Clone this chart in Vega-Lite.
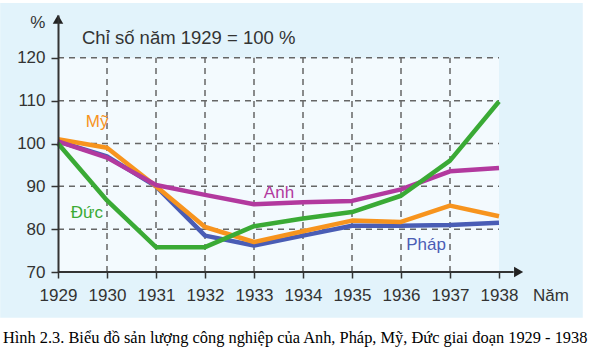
{
  "$schema": "https://vega.github.io/schema/vega-lite/v6.json",
  "autosize": "none",
  "width": 441,
  "height": 257,
  "padding": {"left": 58, "top": 15, "right": 94, "bottom": 85},
  "background": "white",
  "config": {"view": {"stroke": null}},
  "data": {"values": [{}]},
  "resolve": {"axis": {"x": "independent", "y": "independent"}},
  "datasets": {
    "series": [
      {"year": 1929, "country": "Pháp", "value": 100.5},
      {"year": 1930, "country": "Pháp", "value": 97},
      {"year": 1931, "country": "Pháp", "value": 90},
      {"year": 1932, "country": "Pháp", "value": 78.5},
      {"year": 1933, "country": "Pháp", "value": 76.2},
      {"year": 1934, "country": "Pháp", "value": 78.5},
      {"year": 1935, "country": "Pháp", "value": 80.8},
      {"year": 1936, "country": "Pháp", "value": 80.8},
      {"year": 1937, "country": "Pháp", "value": 81},
      {"year": 1938, "country": "Pháp", "value": 81.5},
      {"year": 1929, "country": "Mỹ", "value": 101},
      {"year": 1930, "country": "Mỹ", "value": 99},
      {"year": 1931, "country": "Mỹ", "value": 90},
      {"year": 1932, "country": "Mỹ", "value": 80.5},
      {"year": 1933, "country": "Mỹ", "value": 77},
      {"year": 1934, "country": "Mỹ", "value": 79.5},
      {"year": 1935, "country": "Mỹ", "value": 82},
      {"year": 1936, "country": "Mỹ", "value": 81.7},
      {"year": 1937, "country": "Mỹ", "value": 85.5},
      {"year": 1938, "country": "Mỹ", "value": 83},
      {"year": 1929, "country": "Anh", "value": 100.5},
      {"year": 1930, "country": "Anh", "value": 96.7},
      {"year": 1931, "country": "Anh", "value": 90.3},
      {"year": 1932, "country": "Anh", "value": 88},
      {"year": 1933, "country": "Anh", "value": 85.8},
      {"year": 1934, "country": "Anh", "value": 86.3},
      {"year": 1935, "country": "Anh", "value": 86.6},
      {"year": 1936, "country": "Anh", "value": 89.3},
      {"year": 1937, "country": "Anh", "value": 93.5},
      {"year": 1938, "country": "Anh", "value": 94.3},
      {"year": 1929, "country": "Đức", "value": 100},
      {"year": 1930, "country": "Đức", "value": 86.7},
      {"year": 1931, "country": "Đức", "value": 75.8},
      {"year": 1932, "country": "Đức", "value": 75.8},
      {"year": 1933, "country": "Đức", "value": 80.7},
      {"year": 1934, "country": "Đức", "value": 82.5},
      {"year": 1935, "country": "Đức", "value": 84},
      {"year": 1936, "country": "Đức", "value": 87.8},
      {"year": 1937, "country": "Đức", "value": 96},
      {"year": 1938, "country": "Đức", "value": 109.8}
    ],
    "labels": [
      {"country": "Mỹ", "x": 1929.8, "y": 105},
      {"country": "Anh", "x": 1933.51, "y": 88.4},
      {"country": "Đức", "x": 1929.59, "y": 83.8},
      {"country": "Pháp", "x": 1936.51, "y": 76.3}
    ],
    "vgrid": [{"year": 1930}, {"year": 1931}, {"year": 1932}, {"year": 1933}, {"year": 1934}, {"year": 1935}, {"year": 1936}, {"year": 1937}],
    "hgrid": [{"v": 80}, {"v": 90}, {"v": 100}, {"v": 110}, {"v": 120}]
  },
  "layer": [
    {
      "mark": {"type": "rect", "color": "#E2F3FB"},
      "encoding": {
        "x": {"datum": 1927.82, "type": "quantitative", "scale": {"domain": [1929, 1938], "nice": false, "zero": false}, "axis": null},
        "x2": {"datum": 1939.71},
        "y": {"datum": 59.3, "type": "quantitative", "scale": {"domain": [70, 130], "nice": false, "zero": false}, "axis": null},
        "y2": {"datum": 132.8}
      }
    },
    {
      "mark": {"type": "rect", "color": "#F3FAFE"},
      "encoding": {
        "x": {"datum": 1929, "type": "quantitative", "axis": null},
        "x2": {"datum": 1938},
        "y": {"datum": 70, "type": "quantitative", "axis": null},
        "y2": {"datum": 120}
      }
    },
    {
      "data": {"name": "vgrid"},
      "mark": {"type": "rule", "color": "#666666", "strokeWidth": 1.5, "strokeDash": [6, 5]},
      "encoding": {
        "x": {"field": "year", "type": "quantitative", "axis": null},
        "y": {"datum": 70, "type": "quantitative", "axis": null},
        "y2": {"datum": 120}
      }
    },
    {
      "data": {"name": "hgrid"},
      "mark": {"type": "rule", "color": "#666666", "strokeWidth": 1.5, "strokeDash": [6, 5]},
      "encoding": {
        "y": {"field": "v", "type": "quantitative", "axis": null},
        "x": {"datum": 1929, "type": "quantitative", "axis": null},
        "x2": {"datum": 1938}
      }
    },
    {
      "data": {"name": "series"},
      "mark": {"type": "line", "strokeWidth": 4.5, "strokeJoin": "round"},
      "encoding": {
        "x": {
          "field": "year", "type": "quantitative",
          "scale": {"domain": [1929, 1938], "nice": false, "zero": false},
          "axis": {
            "title": null, "values": [1929, 1930, 1931, 1932, 1933, 1934, 1935, 1936, 1937, 1938],
            "format": "d", "domain": false, "grid": false, "zindex": 1,
            "tickColor": "#333333", "tickWidth": 1.5, "tickSize": 6,
            "labelFont": "Liberation Sans", "labelFontSize": 17, "labelColor": "#333333",
            "labelPadding": 9, "labelFlush": false
          }
        },
        "y": {
          "field": "value", "type": "quantitative",
          "scale": {"domain": [70, 130], "nice": false, "zero": false},
          "axis": {
            "title": null, "values": [70, 80, 90, 100, 110, 120],
            "domain": true, "domainColor": "#333333", "domainWidth": 2, "grid": false, "zindex": 1,
            "tickColor": "#333333", "tickWidth": 1.5, "tickSize": 7,
            "labelFont": "Liberation Sans", "labelFontSize": 17, "labelColor": "#333333",
            "labelPadding": 6, "labelFlush": false
          }
        },
        "color": {
          "field": "country", "type": "nominal",
          "scale": {"domain": ["Pháp", "Mỹ", "Anh", "Đức"], "range": ["#4A5DB5", "#F7941E", "#B2399E", "#3AAA35"]},
          "legend": null
        },
        "order": {"field": "year"}
      }
    },
    {
      "mark": {"type": "rule", "color": "#333333", "strokeWidth": 2},
      "encoding": {
        "x": {"datum": 1929, "type": "quantitative", "axis": null},
        "x2": {"datum": 1938.3},
        "y": {"datum": 70, "type": "quantitative", "axis": null}
      }
    },
    {
      "mark": {"type": "point", "shape": "triangle-right", "filled": true, "color": "#222222", "size": 110, "opacity": 1},
      "encoding": {
        "x": {"datum": 1938.4, "type": "quantitative", "axis": null},
        "y": {"datum": 70, "type": "quantitative", "axis": null}
      }
    },
    {
      "mark": {"type": "point", "shape": "triangle-up", "filled": true, "color": "#222222", "size": 110, "opacity": 1},
      "encoding": {
        "x": {"datum": 1929, "type": "quantitative", "axis": null},
        "y": {"datum": 129, "type": "quantitative", "axis": null}
      }
    },
    {
      "data": {"name": "labels"},
      "mark": {"type": "text", "font": "Liberation Sans", "fontSize": 17, "align": "center", "baseline": "middle"},
      "encoding": {
        "x": {"field": "x", "type": "quantitative", "axis": null},
        "y": {"field": "y", "type": "quantitative", "axis": null},
        "text": {"field": "country"},
        "color": {"field": "country", "type": "nominal", "legend": null}
      }
    },
    {
      "mark": {"type": "text", "font": "Liberation Sans", "fontSize": 18.5, "align": "left", "baseline": "middle", "color": "#333333", "text": "Chỉ số năm 1929 = 100 %"},
      "encoding": {
        "x": {"datum": 1929.49, "type": "quantitative", "axis": null},
        "y": {"datum": 124.6, "type": "quantitative", "axis": null}
      }
    },
    {
      "mark": {"type": "text", "font": "Liberation Sans", "fontSize": 17, "align": "center", "baseline": "middle", "color": "#333333", "text": "%"},
      "encoding": {
        "x": {"datum": 1928.59, "type": "quantitative", "axis": null},
        "y": {"datum": 128.1, "type": "quantitative", "axis": null}
      }
    },
    {
      "mark": {"type": "text", "font": "Liberation Sans", "fontSize": 17, "align": "center", "baseline": "middle", "color": "#333333", "text": "Năm"},
      "encoding": {
        "x": {"datum": 1939.06, "type": "quantitative", "axis": null},
        "y": {"datum": 64.4, "type": "quantitative", "axis": null}
      }
    },
    {
      "mark": {"type": "text", "font": "Liberation Serif", "fontSize": 16.4, "align": "center", "baseline": "middle", "color": "#000000", "text": "Hình 2.3. Biểu đồ sản lượng công nghiệp của Anh, Pháp, Mỹ, Đức giai đoạn 1929 - 1938"},
      "encoding": {
        "x": {"datum": 1933.84, "type": "quantitative", "axis": null},
        "y": {"datum": 54.6, "type": "quantitative", "axis": null}
      }
    }
  ]
}
